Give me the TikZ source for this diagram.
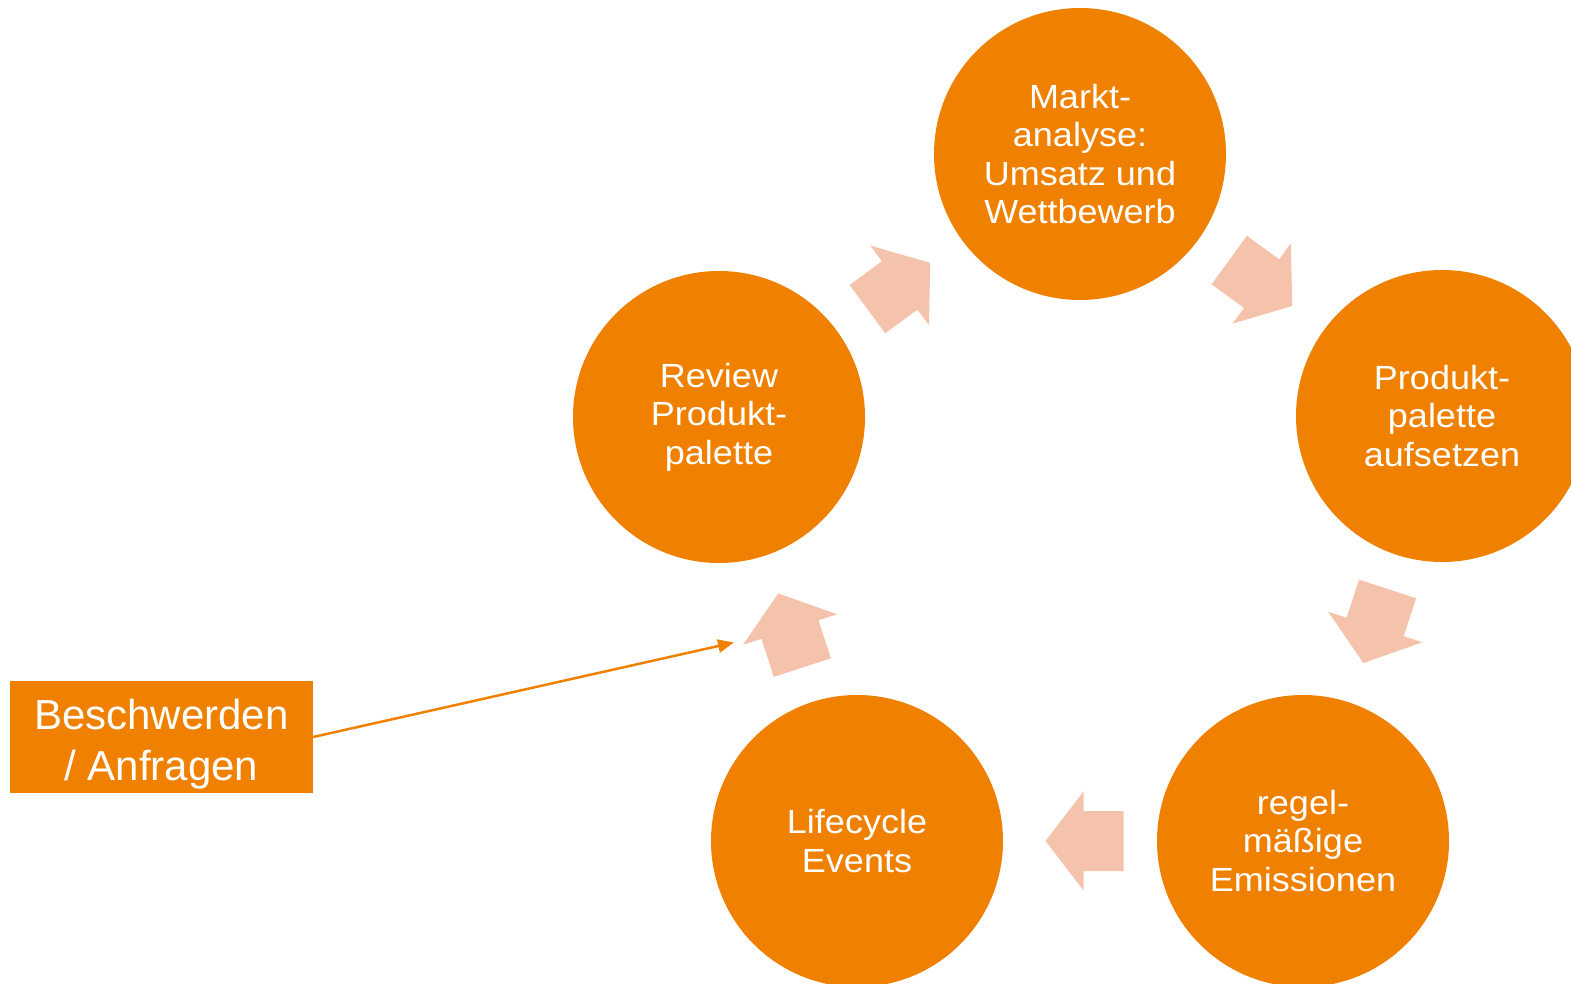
\documentclass[tikz,border=0pt]{standalone}
\usepackage{fontspec}
\setmainfont{Liberation Sans}
\newfontfamily\phasefont[FakeStretch=1.075]{Liberation Sans}
\usetikzlibrary{positioning, arrows.meta}

\definecolor{cycleorange}{RGB}{240,129,0}
\definecolor{flowsalmon}{RGB}{245,195,172}

\tikzset{
  phase/.style={circle, minimum size=292pt, inner sep=0pt, align=center, fill=cycleorange, text=white, font=\phasefont\fontsize{33.5}{38.5}\selectfont},
  flowarrow/.pic={\fill[flowsalmon] (-39,-30) -- (1,-30) -- (1,-49.5) -- (39,0) -- (1,49.5) -- (1,30) -- (-39,30) -- cycle;}
}

\begin{document}
\begin{tikzpicture}[x=1pt, y=-1pt]
\useasboundingbox (0,0) rectangle (1571,984);
\node[phase] (markt) at (1080,154) {Markt-\\analyse:\\Umsatz und\\Wettbewerb};
\node[phase] (aufsetzen) at (1442,416) {Produkt-\\palette\\aufsetzen};
\node[phase] (emission) at (1303,841) {regel-\\mäßige\\Emissionen};
\node[phase] (lifecycle) at (857,841) {Lifecycle\\Events};
\node[phase] (review) at (719,417) {Review\\Produkt-\\palette};
\pic[rotate=36.4] at (898.8,286) {flowarrow};
\pic[rotate=-36] at (1260.8,283) {flowarrow};
\pic[rotate=-108] at (1375.5,626) {flowarrow};
\pic[rotate=180] at (1084.5,841) {flowarrow};
\pic[rotate=108] at (790.3,630.5) {flowarrow};
\node[rectangle, minimum width=303pt, minimum height=112pt, inner sep=0pt, fill=cycleorange,
  label={[align=center, text=white, font=\fontsize{42}{51}\selectfont, yshift=-7pt]center:{Beschwerden\\/ Anfragen}}] (beschwerden) at (161.5,737) {};
\coordinate (eingang) at (734,642.5);
\draw[cycleorange, line width=2.5pt, -{Triangle[length=16pt, width=13pt]}] (beschwerden.east) -- (eingang);
\end{tikzpicture}
\end{document}
